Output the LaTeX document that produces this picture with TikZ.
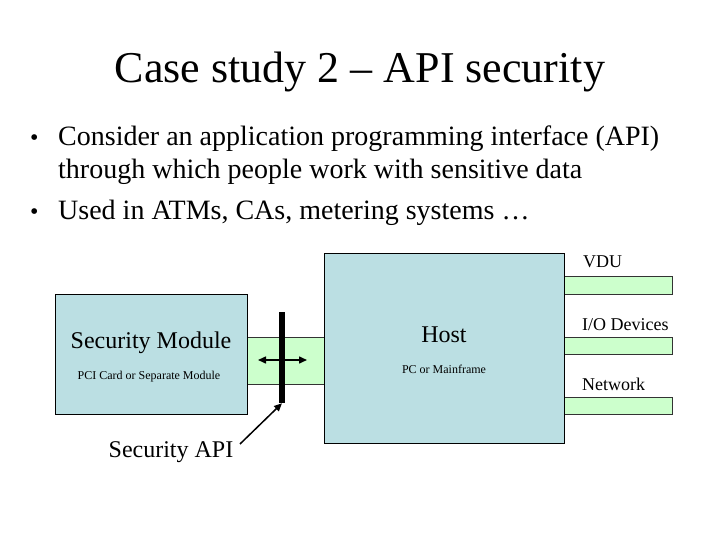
\documentclass[tikz,border=0pt]{standalone}
\usepackage{fontspec}
\setmainfont{Liberation Serif}
\usetikzlibrary{arrows.meta}
\definecolor{boxblue}{RGB}{187,223,227}
\definecolor{bandgreen}{RGB}{204,255,204}
\tikzset{
  bluebox/.style={draw=black, line width=0.8pt, fill=boxblue, inner sep=0pt},
  band/.style={draw=black!80, line width=0.6pt, fill=bandgreen, inner sep=0pt},
  lbl/.style={inner sep=0pt, anchor=base},
  lblw/.style={inner sep=0pt, anchor=base west},
  tip/.style={Triangle[length=8pt,width=7pt]},
  arr/.style={line width=1.5pt, -{Triangle[length=8pt,width=7pt]}}
}
\begin{document}
\begin{tikzpicture}[x=1pt,y=-1pt]
\useasboundingbox (0,0) rectangle (720,540);
% title and bullets
\node[lbl] (title) at (360,83) {\fontsize{44}{50}\selectfont Case study 2 -- API security};
\node[lblw] (b1) at (30,146) {\fontsize{24}{32}\selectfont •};
\node[lblw] (t1) at (58,146) {\fontsize{28}{32}\selectfont Consider an application programming interface (API)};
\node[lblw] (t2) at (58,179) {\fontsize{28}{32}\selectfont through which people work with sensitive data};
\node[lblw] (b2) at (30,219) {\fontsize{24}{32}\selectfont •};
\node[lblw] (t3) at (58,219) {\fontsize{28}{32}\selectfont Used in ATMs, CAs, metering systems \ldots};
% bands
\node[band, minimum width=77pt, minimum height=47pt] (link) at (285.5,360.5) {};
\node[band, minimum width=108pt, minimum height=18pt] (vdu) at (618,285) {};
\node[band, minimum width=108pt, minimum height=17pt] (io) at (618,345.5) {};
\node[band, minimum width=108pt, minimum height=17pt] (net) at (618,405.5) {};
% boxes
\node[bluebox, minimum width=192pt, minimum height=120pt] (sm) at (151,354) {};
\node[bluebox, minimum width=240pt, minimum height=190pt] (host) at (444,348) {};
% texts in boxes
\node[lbl] (smt) at (151,348) {\fontsize{24}{28}\selectfont Security Module};
\node[lbl] (smt2) at (149,379) {\fontsize{12}{14}\selectfont PCI Card or Separate Module};
\node[lbl] (ht) at (444,342) {\fontsize{24}{28}\selectfont Host};
\node[lbl] (ht2) at (444,373) {\fontsize{12}{14}\selectfont PC or Mainframe};
% right labels
\node[lblw] (vdul) at (583,267) {\fontsize{18}{20}\selectfont VDU};
\node[lblw] (iol) at (582,330) {\fontsize{18}{20}\selectfont I/O Devices};
\node[lblw] (netl) at (582,390) {\fontsize{18}{20}\selectfont Network};
% API bar
\node[fill=black, inner sep=0pt, minimum width=6pt, minimum height=91pt] (bar) at (282,357.5) {};
\coordinate (al) at (258,360);
\coordinate (ar) at (307,360);
\draw[line width=1.5pt, {Triangle[length=8pt,width=7pt]}-{Triangle[length=8pt,width=7pt]}] (al) -- (ar);
% Security API label and arrow
\node[lbl] (api) at (171,457) {\fontsize{24}{28}\selectfont Security API};
\coordinate (apis) at (240,444);
\draw[arr] (apis) -- (bar.south);
\end{tikzpicture}
\end{document}
